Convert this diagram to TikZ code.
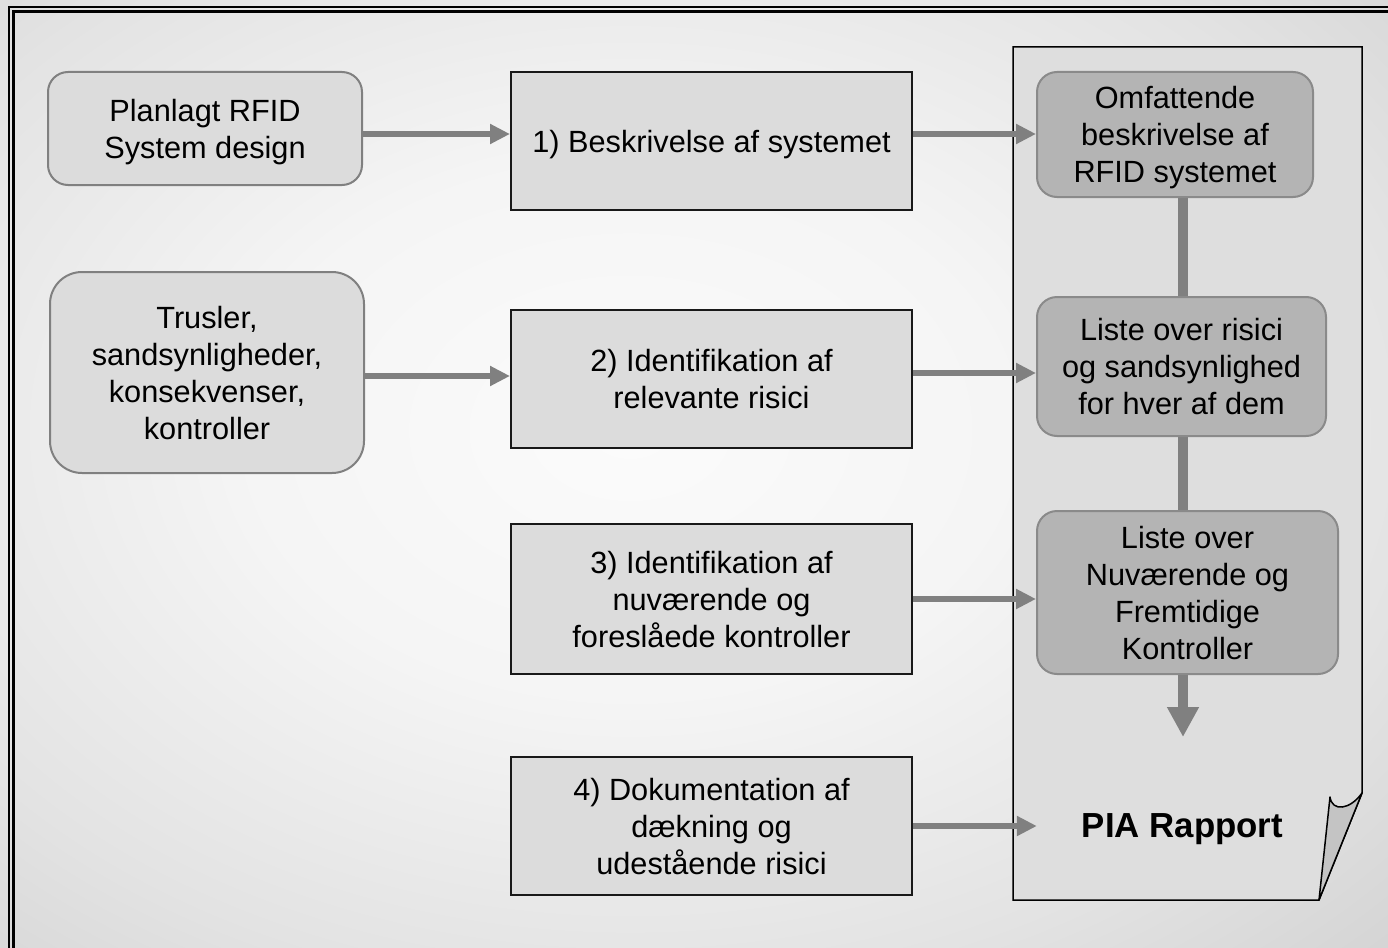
\documentclass[tikz,border=0pt]{standalone}
\usepackage{fontspec}
\setmainfont{Liberation Sans}
\usetikzlibrary{arrows.meta,calc}
\definecolor{bgA}{gray}{0.985}
\definecolor{bgB}{gray}{0.96}
\definecolor{bgC}{gray}{0.89}
\definecolor{bgD}{gray}{0.80}
\definecolor{bgE}{gray}{0.73}
\definecolor{bgF}{gray}{0.62}
\definecolor{boxlight}{gray}{0.863}
\definecolor{docfill}{gray}{0.87}
\definecolor{boxgray}{gray}{0.706}
\definecolor{gborder}{gray}{0.54}
\definecolor{rborder}{gray}{0.50}
\definecolor{arrgray}{gray}{0.50}
\definecolor{flapgray}{gray}{0.77}
\pgfdeclareradialshading{bgshade}{\pgfpoint{0bp}{0bp}}{color(0bp)=(bgA); color(12bp)=(bgB); color(25bp)=(bgC); color(38bp)=(bgD); color(50bp)=(bgE); color(75bp)=(bgF)}
\begin{document}
\begin{tikzpicture}[x=1pt,y=-1pt,
  txt/.style={font=\fontsize{30.7}{37}\selectfont, align=center, inner sep=0pt, text=black, text depth=-3pt},
  rbox/.style={txt, draw=rborder, line width=2pt, fill=boxlight, rounded corners=20pt},
  sbox/.style={txt, draw=black!90, line width=2pt, fill=boxlight},
  gbox/.style={txt, draw=gborder, line width=2pt, fill=boxgray, rounded corners=20pt},
  harr/.style={draw=arrgray, line width=5.5pt, -{Triangle[length=20pt,width=19pt]}},
  vline/.style={draw=arrgray, line width=9.5pt},
  varr/.style={vline, -{Triangle[length=30pt,width=30pt]}}]
\useasboundingbox (0,0) rectangle (1388,947);
\begin{scope}
  \clip (0,0) rectangle (1388,947);
  \shade[shading=bgshade] (-170,-130) rectangle (1430,990);
  \draw[line width=2.3pt] (9,7) rectangle (1420,980);
  \draw[line width=2.3pt] (13.5,11.5) rectangle (1420,980);
\end{scope}

% document
\draw[line width=1.5pt, fill=docfill, line join=miter] (1013,47) -- (1362,47) -- (1362,793) -- (1319,900) -- (1013,900) -- cycle;
\draw[line width=1.5pt, fill=flapgray, line join=round] (1319,900) -- (1330,797) .. controls (1332,812) and (1350,810) .. (1362,793) -- cycle;

% left boxes
\node[rbox, minimum width=314pt, minimum height=113pt] (A) at (205,128.5) {Planlagt RFID\\System design};
\node[rbox, rounded corners=32pt, minimum width=314pt, minimum height=201pt] (B) at (207,372.5) {Trusler,\\sandsynligheder,\\konsekvenser,\\kontroller};

% middle steps
\node[sbox, minimum width=401pt, minimum height=138pt] (r1) at (711.5,141) {1) Beskrivelse af systemet};
\node[sbox, minimum width=401pt, minimum height=138pt] (r2) at (711.5,379) {2) Identifikation af\\relevante risici};
\node[sbox, minimum width=401pt, minimum height=150pt] (r3) at (711.5,599) {3) Identifikation af\\nuværende og\\foreslåede kontroller};
\node[sbox, minimum width=401pt, minimum height=138pt] (r4) at (711.5,826) {4) Dokumentation af\\dækning og\\udestående risici};

% right results
\coordinate (vx) at (1183,0);
\coordinate (pend) at (1183,737);
\draw[vline] (1183,190) -- (1183,300);
\draw[vline] (1183,430) -- (1183,515);
\node[gbox, minimum width=276pt, minimum height=125pt] (G1) at (1175,134.5) {Omfattende\\beskrivelse af\\RFID systemet};
\node[gbox, minimum width=289pt, minimum height=139pt] (G2) at (1181.5,366.5) {Liste over risici\\og sandsynlighed\\for hver af dem};
\node[gbox, minimum width=301pt, minimum height=163pt] (G3) at (1187.5,592.5) {Liste over\\Nuværende og\\Fremtidige\\Kontroller};
\node[txt, font=\bfseries\fontsize{34.8}{40}\selectfont, minimum width=291pt] (pia) at (1182.5,826) {PIA Rapport};

\draw[varr] (G3.south -| vx) -- (pend);

% horizontal arrows
\coordinate (a1) at ([yshift=-5.5pt]A.east);
\draw[harr] (a1) -- (a1 -| r1.west);
\coordinate (a2) at ([yshift=7pt]r1.east);
\draw[harr] (a2) -- (a2 -| G1.west);
\coordinate (a3) at ([yshift=-3.5pt]B.east);
\draw[harr] (a3) -- (a3 -| r2.west);
\coordinate (a4) at ([yshift=6pt]r2.east);
\draw[harr] (a4) -- (a4 -| G2.west);
\draw[harr] (r3.east) -- (r3.east -| G3.west);
\draw[harr] (r4.east) -- (pia.west);
\end{tikzpicture}
\end{document}
